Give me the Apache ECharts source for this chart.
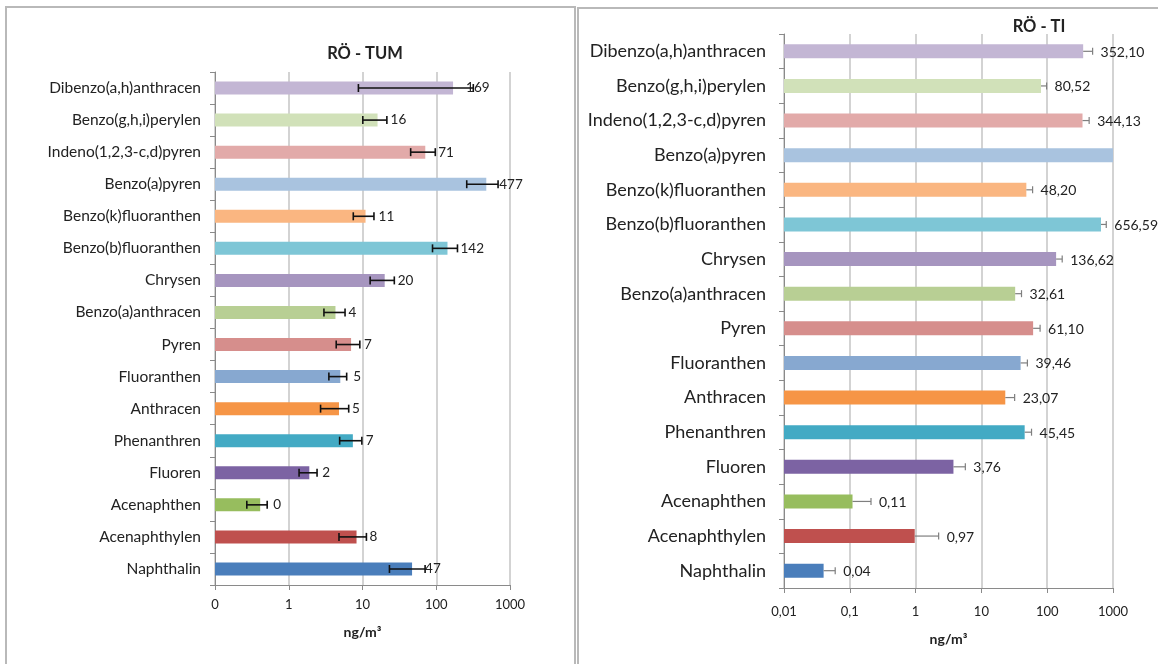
<!DOCTYPE html>
<html><head><meta charset="utf-8">
<script src="https://cdn.jsdelivr.net/npm/echarts@6/dist/echarts.min.js"></script>
<style>html,body{margin:0;padding:0;background:#fff}#c{width:1158px;height:664px}</style>
</head><body><div id="c"></div>
<script>
// ---- data (top to bottom) ----
const categories = ['Dibenzo(a,h)anthracen','Benzo(g,h,i)perylen','Indeno(1,2,3-c,d)pyren','Benzo(a)pyren','Benzo(k)fluoranthen','Benzo(b)fluoranthen','Chrysen','Benzo(a)anthracen','Pyren','Fluoranthen','Anthracen','Phenanthren','Fluoren','Acenaphthen','Acenaphthylen','Naphthalin'];
const colors = ['#c3b6d4','#d1e1b9','#e2aaa9','#a9c3df','#fab681','#7ec6d6','#a695bf','#b8cf94','#d68e8c','#87a8d0','#f69546','#43aac4','#7c63a3','#97bd5e','#bf504e','#4a7ebb'];
const tumValues  = [169, 16, 71, 477, 11, 142, 20, 4.3, 7.0, 5.0, 4.8, 7.4, 1.9, 0.41, 8.3, 47];
const tumErrLow  = [8.8, 10.1, 45, 259, 7.5, 89, 12.7, 3.0, 4.4, 3.5, 2.7, 4.9, 1.38, 0.27, 4.8, 23.2];
const tumErrHigh = [318, 21.4, 97, 689, 14.3, 194, 27, 5.8, 9.2, 6.1, 6.5, 9.8, 2.42, 0.51, 11.3, 70.6];
const tiValues   = [352.10, 80.52, 344.13, 1000, 48.20, 656.59, 136.62, 32.61, 61.10, 39.46, 23.07, 45.45, 3.76, 0.11, 0.97, 0.04];
const tiLabels   = ['352,10','80,52','344,13','','48,20','656,59','136,62','32,61','61,10','39,46','23,07','45,45','3,76','0,11','0,97','0,04'];
const tiErrHigh  = [490, 98, 434, 1000, 60, 790, 169, 40.7, 78, 50, 32, 57.8, 5.7, 0.21, 2.24, 0.06];
const tumTickLabels = ['0','1','10','100','1000'];
const tiTickLabels  = ['0,01','0,1','1','10','100','1000'];

const FONT = 'Lato';
const chart = echarts.init(document.getElementById('c'), null, {renderer:'canvas'});

function tickFmt(labels, min){
  return function(v){
    const i = Math.round(Math.log10(v) - Math.log10(min));
    return labels[i] !== undefined ? labels[i] : '';
  };
}

function tumErr(params, api){
  const i = api.value(1), lo = api.value(0), hi = api.value(2);
  const p1 = api.coord([lo, i]), p2 = api.coord([hi, i]);
  const h = 4, st = {stroke:'#111', lineWidth:1.6};
  return {type:'group', children:[
    {type:'line', shape:{x1:p1[0],y1:p1[1],x2:p2[0],y2:p2[1]}, style:st},
    {type:'line', shape:{x1:p1[0],y1:p1[1]-h,x2:p1[0],y2:p1[1]+h}, style:st},
    {type:'line', shape:{x1:p2[0],y1:p2[1]-h,x2:p2[0],y2:p2[1]+h}, style:st}
  ]};
}

function tiErr(params, api){
  const i = api.value(1), v = api.value(0), hi = api.value(2);
  const p1 = api.coord([v, i]), p2 = api.coord([hi, i]);
  const h = 3.5, st = {stroke:'#7f7f7f', lineWidth:1.2};
  const idx = params.dataIndex;
  const children = [];
  if (tiLabels[idx] !== '') {
    children.push({type:'line', shape:{x1:p1[0],y1:p1[1],x2:p2[0],y2:p2[1]}, style:st});
    children.push({type:'line', shape:{x1:p2[0],y1:p2[1]-h,x2:p2[0],y2:p2[1]+h}, style:st});
    children.push({type:'text', x:p2[0]+8, y:p2[1]+1, style:{text:tiLabels[idx], fill:'#222', font:'14px '+FONT, textAlign:'left', textVerticalAlign:'middle'}});
  }
  return {type:'group', children};
}

const axisGray = '#8a8a8a';
const gridGray = '#c4c4c4';

function yAx(gi, fs, margin){
  return {type:'category', gridIndex:gi, data:categories, inverse:true,
    axisLine:{show:true, lineStyle:{color:axisGray, width:1}},
    axisTick:{show:true, length:5, lineStyle:{color:axisGray}},
    axisLabel:{fontFamily:FONT, fontSize:fs, color:'#222', margin:margin},
    splitLine:{show:false}};
}
function xAx(gi, min, labels, fs, margin, gap){
  return {type:'log', logBase:10, gridIndex:gi, min:min, max:1000, startValue:min,
    name:'ng/m³', nameLocation:'middle', nameGap:gap,
    nameTextStyle:{fontFamily:FONT, fontSize:14, fontWeight:'bold', color:'#222'},
    axisLine:{show:true, onZero:false, lineStyle:{color:axisGray}},
    axisTick:{show:true, length:5, lineStyle:{color:axisGray}},
    minorTick:{show:false},
    axisLabel:{fontFamily:FONT, fontSize:fs, color:'#222', margin:margin, formatter:tickFmt(labels, min)},
    splitLine:{show:true, lineStyle:{color:gridGray, width:1.5}}};
}

chart.setOption({
  animation:false,
  backgroundColor:'#fff',
  textStyle:{fontFamily:FONT},
  title:[
    {text:'RÖ - TUM', left:365, top:45, textAlign:'center', padding:0, textStyle:{fontFamily:FONT, fontSize:16.5, fontWeight:'bold', color:'#222'}},
    {text:'RÖ - TI', left:1039, top:18, textAlign:'center', padding:0, textStyle:{fontFamily:FONT, fontSize:16.5, fontWeight:'bold', color:'#222'}}
  ],
  graphic:[
    {type:'rect', shape:{x:6, y:7, width:569, height:720}, style:{fill:'none', stroke:'#b9b9b9', lineWidth:2}, z:-1},
    {type:'rect', shape:{x:578, y:8, width:620, height:720}, style:{fill:'none', stroke:'#b9b9b9', lineWidth:2}, z:-1}
  ],
  grid:[
    {left:215, top:72, width:295, height:513, containLabel:false},
    {left:784, top:34, width:329, height:554, containLabel:false}
  ],
  xAxis:[ xAx(0, 0.1, tumTickLabels, 13, 13, 40), xAx(1, 0.01, tiTickLabels, 13, 17, 44) ],
  yAxis:[ yAx(0, 15.5, 14), yAx(1, 18, 18) ],
  series:[
    {type:'bar', xAxisIndex:0, yAxisIndex:0, barWidth:13,
      data: tumValues.map((v,i)=>({value:v, itemStyle:{color:colors[i]}})),
      label:{show:true, position:'right', distance:13, fontFamily:FONT, fontSize:13.5, color:'#222',
        formatter:p=>String(Math.round(p.value))}},
    {type:'custom', xAxisIndex:0, yAxisIndex:0, renderItem:tumErr, clip:false, z:5,
      encode:{x:[0,2], y:1},
      data: tumValues.map((v,i)=>[tumErrLow[i], i, tumErrHigh[i]])},
    {type:'bar', xAxisIndex:1, yAxisIndex:1, barWidth:14,
      data: tiValues.map((v,i)=>({value:v, itemStyle:{color:colors[i]}}))},
    {type:'custom', xAxisIndex:1, yAxisIndex:1, renderItem:tiErr, clip:false, z:5,
      encode:{x:[0,2], y:1},
      data: tiValues.map((v,i)=>[v, i, tiErrHigh[i]])}
  ]
});
</script></body></html>
